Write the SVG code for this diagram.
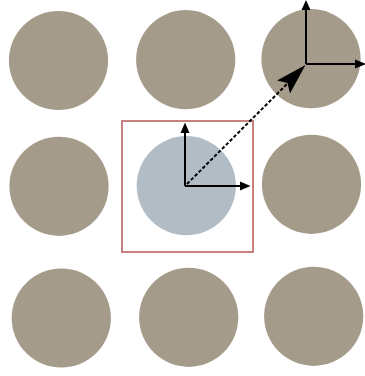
<svg xmlns="http://www.w3.org/2000/svg" width="365" height="376" viewBox="0 0 365 376">
<style>
.atom{fill:#a59b8a}
.center{fill:#b1bcc5}
.axis{stroke:#000;stroke-width:2;fill:none}
.head{fill:#000}
</style>
<rect width="365" height="376" fill="#fff"/>
<g id="atom-1-1"><circle class="atom" cx="58.5" cy="60.5" r="49.6"/></g>
<g id="atom-1-2"><circle class="atom" cx="185.7" cy="59.7" r="49.6"/></g>
<g id="atom-1-3"><circle class="atom" cx="311" cy="58.7" r="49.6"/></g>
<g id="atom-2-1"><circle class="atom" cx="59" cy="186.3" r="49.6"/></g>
<g id="atom-2-2"><circle class="center" cx="186.3" cy="185.7" r="49.6"/></g>
<g id="atom-2-3"><circle class="atom" cx="311.5" cy="184.3" r="49.6"/></g>
<g id="atom-3-1"><circle class="atom" cx="61.3" cy="318" r="49.6"/></g>
<g id="atom-3-2"><circle class="atom" cx="188.7" cy="317.3" r="49.6"/></g>
<g id="atom-3-3"><circle class="atom" cx="313.7" cy="316.3" r="49.6"/></g>
<g id="cell"><rect x="122" y="121" width="131" height="131" fill="none" stroke="#c27373" stroke-width="1.8"/></g>
<g id="connectors">
<path class="axis" d="M185,186 V132 M185,186 H240"/>
<polygon class="head" points="185,122.5 180.5,133 189.5,133"/>
<polygon class="head" points="250.5,186 240,181.5 240,190.5"/>
<path class="axis" d="M306,64 V9 M306,64 H356"/>
<polygon class="head" points="306,0 301.5,10 310.5,10"/>
<polygon class="head" points="366,64 355,59.5 355,68.5"/>
<line x1="187" y1="184" x2="289" y2="82" stroke="#000" stroke-width="2" stroke-dasharray="3.5,2"/>
<polygon class="head" points="305.5,65 277,80.5 287.5,83 290,93.5"/>
</g>
</svg>
